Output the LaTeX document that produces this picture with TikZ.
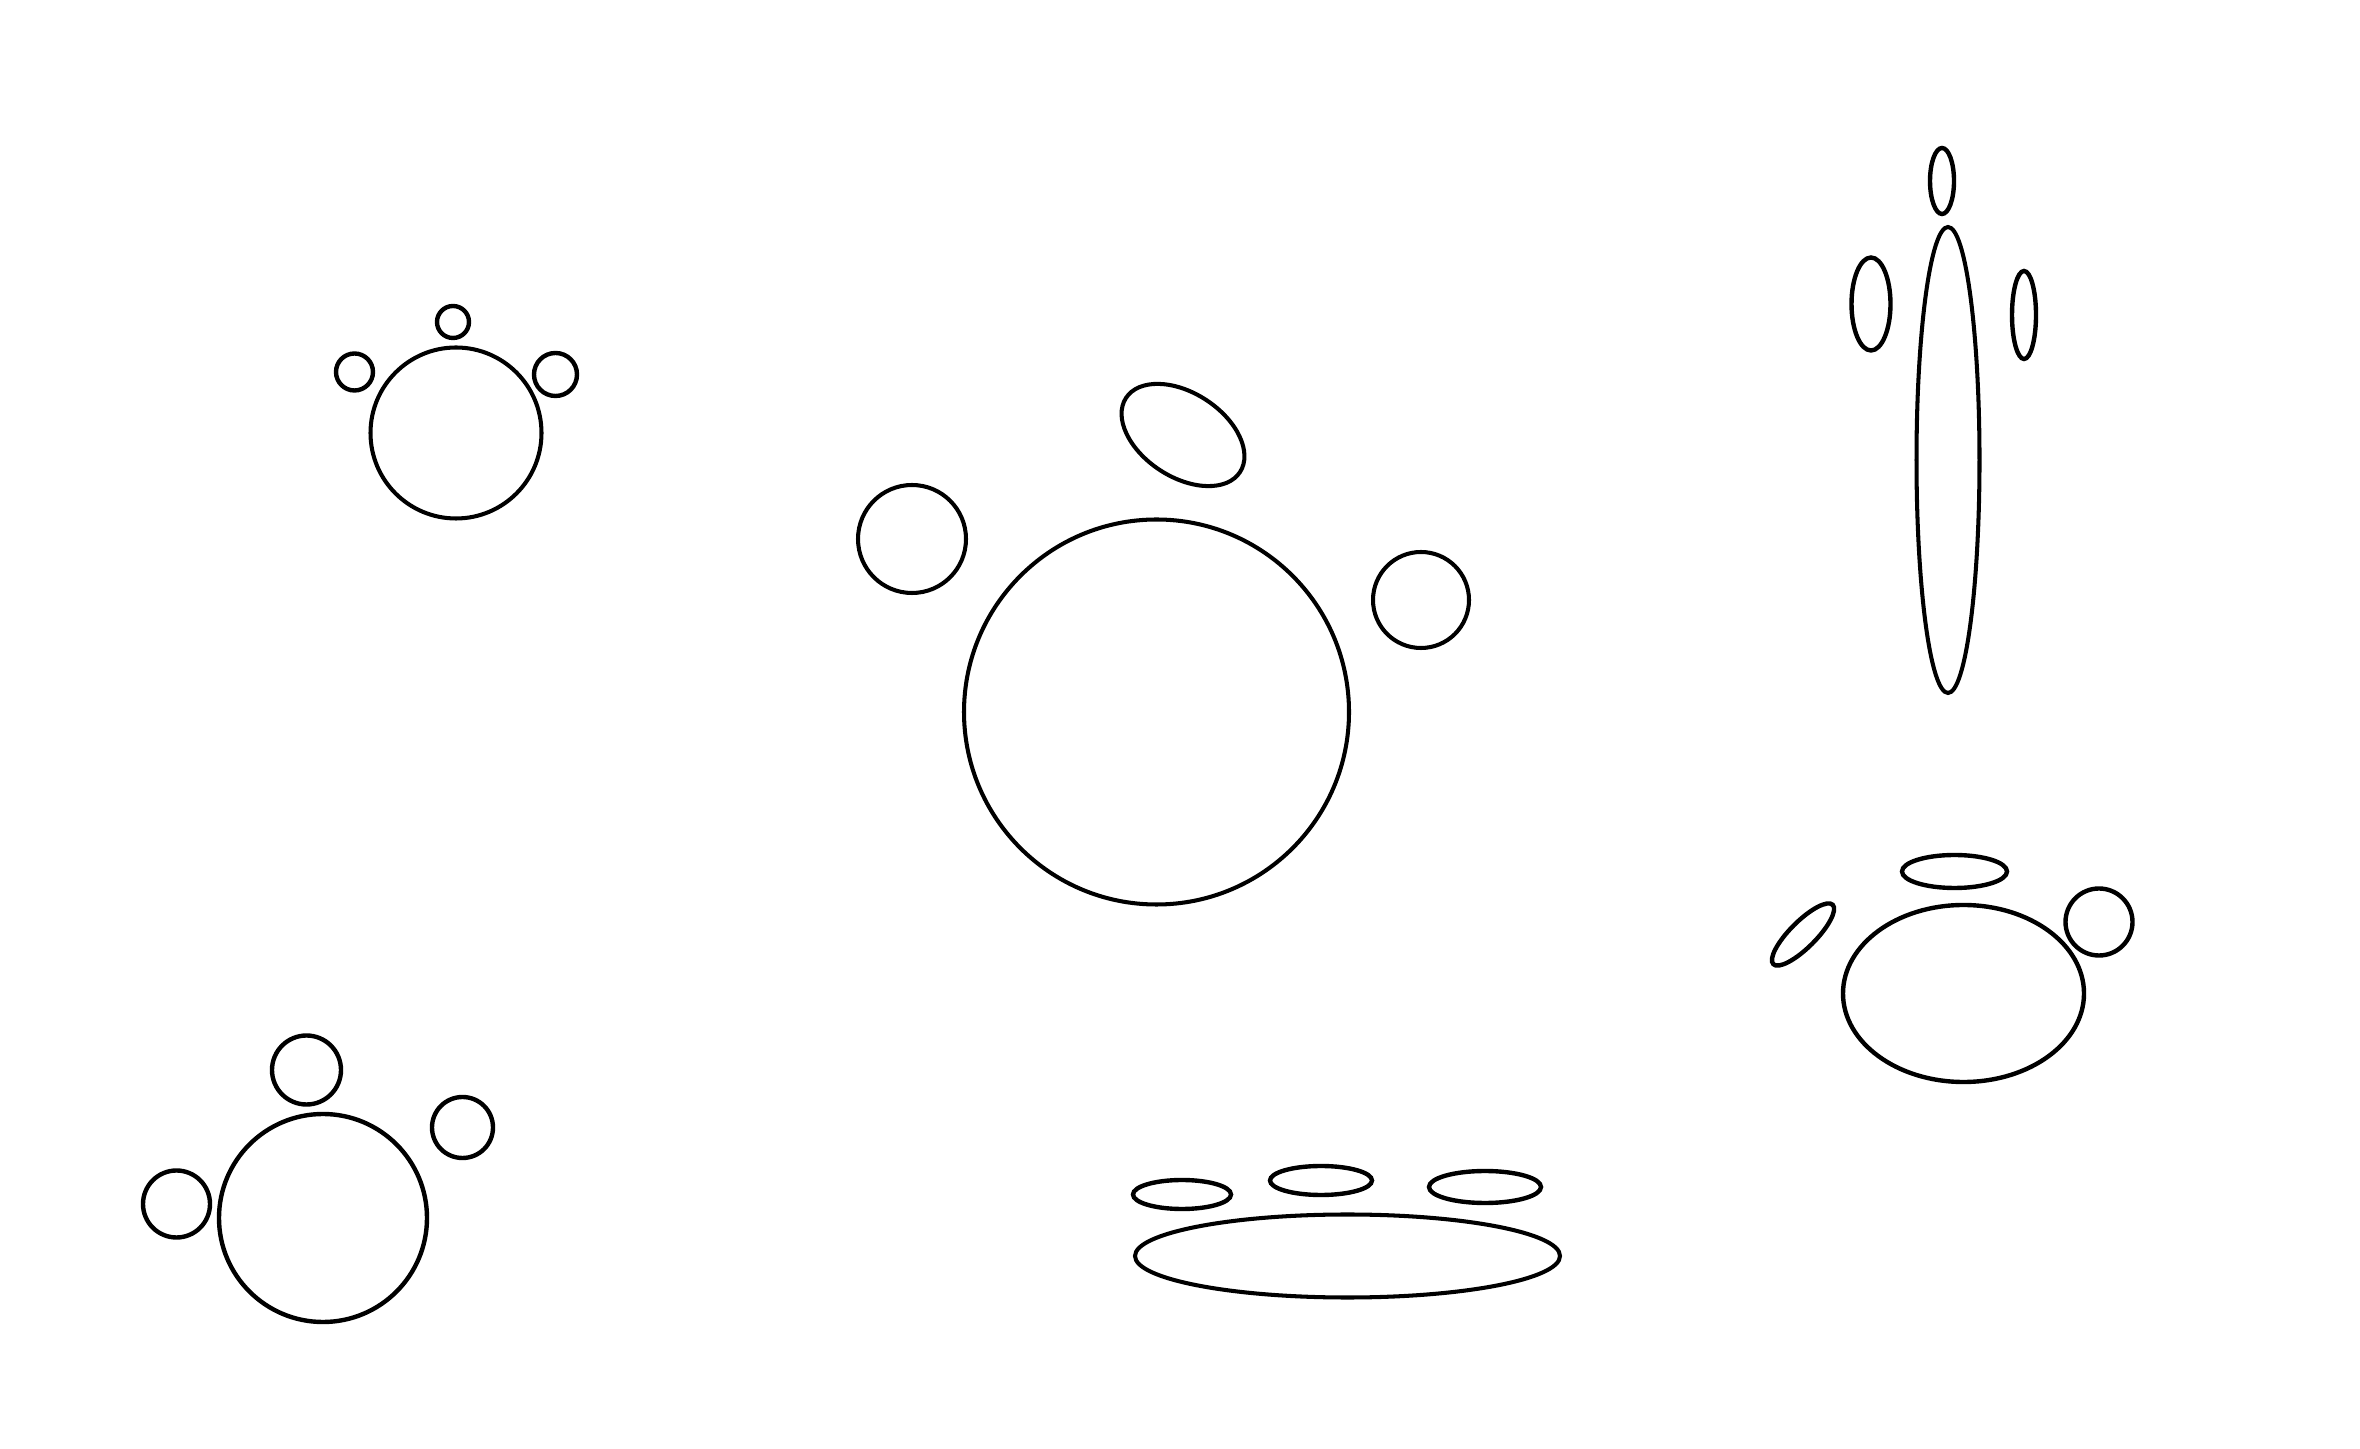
\documentclass[tikz,border=0pt]{standalone}

\begin{document}
\begin{tikzpicture}[
  x=0.01cm, y=0.01cm,
  outline/.style={draw=black, line width=1.15pt},
  thick outline/.style={draw=black, line width=1.25pt}
]
  \useasboundingbox (0,0) rectangle (2360,1448);

  \draw[outline] (456,1015) circle[radius=85.5];
  \draw[thick outline] (453,1126) circle[radius=16];
  \draw[thick outline] (354.5,1076) circle[radius=18.5];
  \draw[thick outline] (555.5,1073.5) circle[radius=21.5];

  \draw[outline] (1156.5,736) circle[radius=192.5];
  \draw[outline] (912,909) circle[radius=54];
  \draw[outline] (1421,848) circle[radius=48];
  \draw[outline] (1183,1013) ellipse[x radius=68, y radius=42, rotate=-33];

  \draw[outline] (1948,988) ellipse[x radius=31.5, y radius=233];
  \draw[thick outline] (1942,1267) ellipse[x radius=12, y radius=33];
  \draw[thick outline] (1871,1144) ellipse[x radius=19.5, y radius=46.5];
  \draw[thick outline] (2024,1133) ellipse[x radius=12, y radius=44];

  \draw[thick outline] (1963.5,454.5) ellipse[x radius=120.5, y radius=88.5];
  \draw[thick outline] (1954.5,576.5) ellipse[x radius=52.5, y radius=16.5];
  \draw[thick outline] (2099,526) circle[radius=33.5];
  \draw[thick outline] (1803,513.5) ellipse[x radius=42, y radius=13, rotate=45];

  \draw[thick outline] (323,230) circle[radius=104];
  \draw[thick outline] (306.5,378) circle[radius=34.5];
  \draw[thick outline] (462.5,320.5) circle[radius=30.5];
  \draw[thick outline] (176.5,244) circle[radius=33.5];

  \draw[outline] (1347.5,192) ellipse[x radius=212.5, y radius=41.5];
  \draw[thick outline] (1182,253.5) ellipse[x radius=49, y radius=14.5];
  \draw[thick outline] (1321,267.5) ellipse[x radius=51, y radius=14.5];
  \draw[thick outline] (1485,261) ellipse[x radius=56, y radius=16];
\end{tikzpicture}
\end{document}
